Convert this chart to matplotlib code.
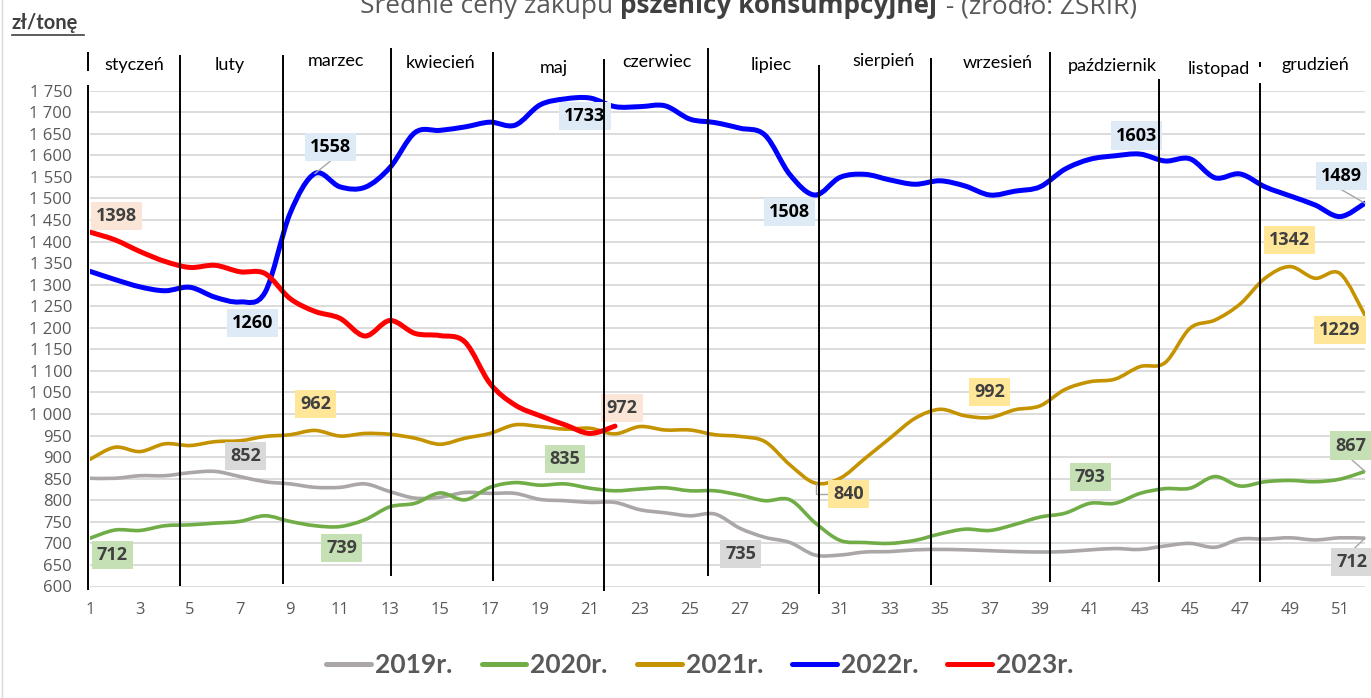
import numpy as np
import matplotlib
matplotlib.use("Agg")
import matplotlib.pyplot as plt
from matplotlib.path import Path
from matplotlib.patches import PathPatch
from matplotlib.lines import Line2D
from matplotlib.font_manager import FontProperties

# ---------------- data ----------------
weeks = list(range(1, 53))
series_names = ["2019r.", "2020r.", "2021r.", "2022r.", "2023r."]

y2019 = [851, 851, 857, 857, 864, 867, 855, 843, 838, 830, 830, 838, 820, 805, 807,
         818, 816, 816, 802, 799, 795, 795, 778, 771, 764, 768, 735, 714, 702, 673,
         673, 680, 681, 685, 686, 685, 683, 681, 680, 681, 685, 688, 686, 694, 700,
         691, 710, 710, 713, 708, 713, 712]
y2020 = [712, 731, 730, 741, 743, 747, 751, 764, 751, 741, 739, 755, 785, 793, 817,
         801, 830, 841, 835, 838, 828, 822, 826, 829, 822, 822, 812, 799, 801, 748,
         707, 702, 700, 707, 722, 733, 730, 744, 761, 770, 793, 793, 816, 827, 828,
         855, 833, 843, 846, 843, 849, 867]
y2021 = [895, 923, 913, 931, 927, 936, 938, 948, 952, 962, 949, 955, 953, 944, 930,
         944, 955, 975, 971, 965, 967, 954, 971, 963, 963, 952, 948, 936, 882, 840,
         851, 897, 944, 990, 1011, 996, 992, 1010, 1019, 1057, 1075, 1081, 1110, 1119,
         1199, 1218, 1255, 1315, 1342, 1315, 1326, 1229]
y2022 = [1331, 1312, 1295, 1286, 1294, 1271, 1260, 1282, 1465, 1558, 1527, 1526, 1572,
         1653, 1658, 1666, 1677, 1670, 1717, 1731, 1733, 1713, 1713, 1715, 1684, 1676,
         1663, 1647, 1555, 1508, 1549, 1556, 1543, 1533, 1541, 1529, 1508, 1517, 1527,
         1568, 1591, 1599, 1603, 1587, 1592, 1548, 1557, 1527, 1506, 1485, 1458, 1489]
y2023 = [1422, 1404, 1377, 1354, 1340, 1345, 1330, 1326, 1268, 1238, 1222, 1181, 1217,
         1187, 1182, 1167, 1071, 1021, 996, 975, 955, 972]

series_values = [y2019, y2020, y2021, y2022, y2023]
series_colors = ["#ABA7A7", "#70AD47", "#C59300", "#0000FF", "#FF0000"]
series_widths = [2.6, 2.6, 2.6, 3.6, 3.6]

months = ["styczeń", "luty", "marzec", "kwiecień", "maj", "czerwiec", "lipiec",
          "sierpień", "wrzesień", "październik", "listopad", "grudzień"]

y_ticks = list(range(600, 1751, 50))
x_ticks = list(range(1, 52, 2))

# data labels: (series index, text, label-centre week, label-centre value)
data_labels = [
    (4, "1398", 2.05, 1459), (4, "972", 22.28, 1013),
    (3, "1558", 10.63, 1620), (3, "1260", 7.5, 1211), (3, "1733", 20.8, 1692),
    (3, "1508", 28.99, 1469), (3, "1603", 42.87, 1646), (3, "1489", 51.07, 1553),
    (2, "962", 10.03, 1023), (2, "840", 31.33, 815), (2, "992", 36.99, 1052),
    (2, "1342", 48.99, 1403), (2, "1229", 51.0, 1194),
    (1, "712", 1.89, 673), (1, "739", 11.07, 690), (1, "835", 20.0, 895),
    (1, "793", 41.01, 854), (1, "867", 51.42, 927),
    (0, "852", 7.23, 903), (0, "735", 27.03, 676), (0, "712", 51.47, 656),
]
label_bg = ["#D9D9D9", "#C5E0B4", "#FFE699", "#DEEBF7", "#FBE5D6"]
label_fg = ["#404040", "#404040", "#404040", "#000000", "#404040"]

# ---------------- layout ----------------
W, H = 1371, 698
fig = plt.figure(figsize=(W / 100, H / 100), dpi=100)
fig.patch.set_facecolor("white")

ax_left, ax_right = 90, 1365
ax_top, ax_bot = 90.7, 586.5
ax = fig.add_axes([ax_left / W, 1 - ax_bot / H, (ax_right - ax_left) / W, (ax_bot - ax_top) / H])
ax.set_xlim(1, 52)
ax.set_ylim(600, 1750)
for s in ax.spines.values():
    s.set_visible(False)
ax.set_yticks(y_ticks)
ax.set_yticklabels([f"{v:,}".replace(",", " ") for v in y_ticks])
ax.set_xticks(x_ticks)
ax.set_xticklabels([str(v) for v in x_ticks])
ax.tick_params(axis="both", length=0, colors="#595959", labelsize=12)
ax.tick_params(axis="y", pad=13)
ax.tick_params(axis="x", pad=11)
for lab in ax.get_xticklabels() + ax.get_yticklabels():
    lab.set_fontfamily("Open Sans")
ax.grid(axis="y", color="#D9D9D9", linewidth=1.3)
ax.set_axisbelow(True)


def smooth_path(xs, ys):
    pts = np.column_stack([xs, ys]).astype(float)
    n = len(pts)
    verts = [pts[0]]
    codes = [Path.MOVETO]
    for i in range(n - 1):
        p0 = pts[i - 1] if i > 0 else pts[i]
        p1 = pts[i]
        p2 = pts[i + 1]
        p3 = pts[i + 2] if i + 2 < n else pts[i + 1]
        c1 = p1 + (p2 - p0) / 6.0
        c2 = p2 - (p3 - p1) / 6.0
        verts += [c1, c2, p2]
        codes += [Path.CURVE4] * 3
    return Path(verts, codes)


for k, vals in enumerate(series_values):
    xs = weeks[:len(vals)]
    patch = PathPatch(smooth_path(xs, vals), fill=False, edgecolor=series_colors[k],
                      linewidth=series_widths[k], capstyle="round", joinstyle="round",
                      zorder=3 + k)
    ax.add_patch(patch)

# leader lines
leaders = [
    ([10.6, 10], [1586, y2022[9]]),
    ([51.07, 52], [1520, y2022[51]]),
    ([30.47, 30.03, 30.03], [815, 815, y2021[29]]),
    ([51.47, 52], [894, y2020[51]]),
    ([51.6, 52], [690, y2019[51]]),
]
for lx, ly in leaders:
    ax.plot(lx, ly, color="#A6A6A6", lw=1.0, zorder=9, clip_on=False)

for k, txt, lxw, lyv in data_labels:
    ax.text(lxw, lyv, txt, ha="center", va="center", fontsize=13, fontweight="bold",
            family="Open Sans", color=label_fg[k], zorder=10, clip_on=False,
            bbox=dict(boxstyle="square,pad=0.28", fc=label_bg[k], ec="none"))

# month separator lines (week position, bottom value, top value)
sep_lines = [
    (0.93, 592, 1763), (4.6, 601, 1833), (8.72, 606, 1833), (13.05, 625, 1849),
    (17.13, 613, 1840), (21.56, 589, 1824), (25.71, 625, 1849), (30.16, 582, 1810),
    (34.63, 604, 1826), (39.4, 611, 1840), (43.76, 611, 1777), (47.8, 611, 1768),
]
for xw, yb, yt in sep_lines:
    ax.plot([xw, xw], [yb, yt], color="black", lw=1.4, zorder=20, clip_on=False,
            solid_capstyle="butt")
ax.plot([0.93, 0.93], [1798, 1837], color="black", lw=1.4, zorder=20, clip_on=False)
ax.plot([47.8, 47.8], [1807, 1814], color="black", lw=1.4, zorder=20, clip_on=False)

# month labels (pixel centres)
month_pos = [(134, 65), (230, 65), (336, 61), (441, 63), (554, 68), (657, 62),
             (771, 65), (883, 61), (998, 63), (1112, 66), (1219, 69), (1315, 65)]
for name, (px, py) in zip(months, month_pos):
    fig.text(px / W, 1 - py / H, name, ha="center", va="center", fontsize=13,
             family="Lato", color="black")

# y-axis unit label
fig.text(12 / W, 1 - 29 / H, "zł/tonę", ha="left", va="baseline", fontsize=14.5,
         family="Lato", fontweight="bold", color="#404040")
fig.add_artist(Line2D([12 / W, 84 / W], [1 - 35 / H, 1 - 35 / H], color="#404040", lw=1.2))

# title (partly cut at the top)
fig.canvas.draw()
renderer = fig.canvas.get_renderer()
title_parts = [("Średnie ceny zakupu ", "normal", "#595959"),
               ("pszenicy konsumpcyjnej", "bold", "#404040"),
               (" - (źródło: ZSRIR)", "normal", "#595959")]
tsize = 17
widths = []
for t, wgt, c in title_parts:
    tmp = fig.text(0, 0, t, fontsize=tsize, family="Open Sans", fontweight=wgt)
    widths.append(tmp.get_window_extent(renderer).width)
    tmp.remove()
total = sum(widths)
scale = 777 / total
tsize *= scale
widths = [w_ * scale for w_ in widths]
xcur = 360
for (t, wgt, c), w_ in zip(title_parts, widths):
    fig.text(xcur / W, 1 - 13 / H, t, ha="left", va="baseline", fontsize=tsize,
             family="Open Sans", fontweight=wgt, color=c)
    xcur += w_

# chart border on the left
fig.add_artist(Line2D([2 / W, 2 / W], [0, 1], color="#D9D9D9", lw=1.0))

# legend
handles = [Line2D([], [], color=c, lw=3.6, solid_capstyle="round") for c in series_colors]
fig.legend(handles, series_names, loc="center", bbox_to_anchor=(700 / W, 1 - 665 / H),
           ncol=5, frameon=False, handlelength=1.7, handletextpad=0.15, columnspacing=1.1,
           prop=FontProperties(family="Lato", weight="bold", size=19), labelcolor="#595959")

fig.savefig("out.png", dpi=100, facecolor="white")
